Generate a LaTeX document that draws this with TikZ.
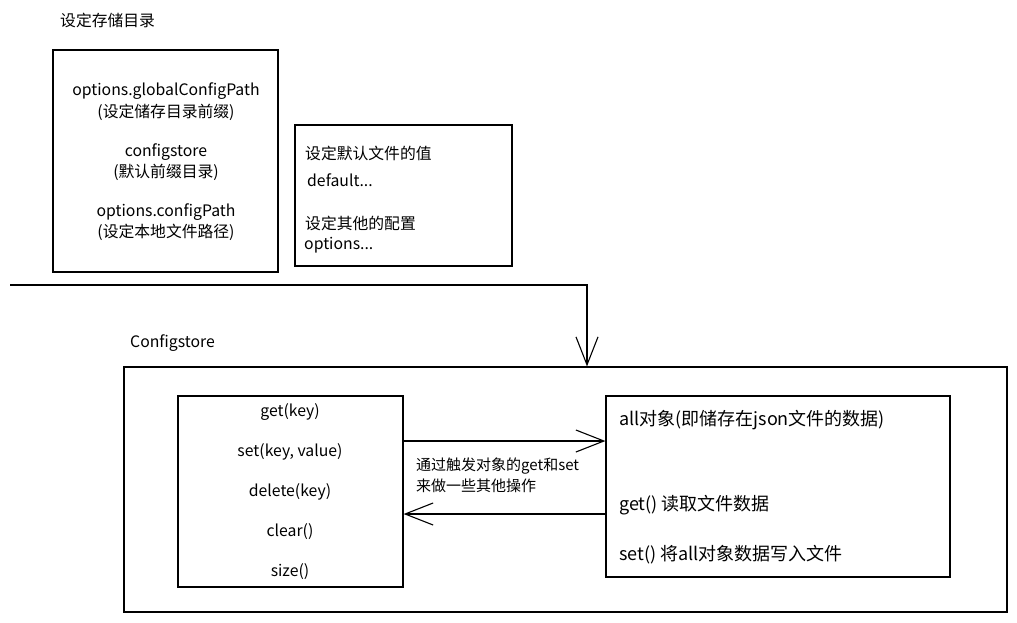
\documentclass[tikz,border=0pt]{standalone}
\usepackage{fontspec}
\setmainfont{Noto Sans CJK SC}
\usetikzlibrary{arrows.meta, positioning, calc}
\tikzset{box/.style={draw=black, line width=1.2pt, rectangle, inner sep=0pt},
    txt/.style={font=\fontsize{15.8}{21}\selectfont, inner sep=0pt},
    lefttxt/.style={txt, anchor=west, align=left},
    bigtxt/.style={lefttxt, font=\fontsize{18}{21}\selectfont},
    smalltxt/.style={lefttxt, font=\fontsize{15}{21}\selectfont},
    flow/.style={draw, line width=1.2pt, -{Straight Barb[length=28pt, width=22pt, line width=1.1pt]}}}

\begin{document}
\begin{tikzpicture}[x=1pt, y=-1pt]
  \useasboundingbox (0,0) rectangle (1017,622);

  % storage directory
  \node[lefttxt] (dirtitle) at (60,20) {设定存储目录};
  \node[box, minimum width=225pt, minimum height=222pt] (dirbox) at (165.5,161) {};
  \node[txt] (gpath) at (166,91) {options.globalConfigPath};
  \node[txt] (gpathnote) at (166,112) {(设定储存目录前缀)};
  \node[txt] (cfgname) at (166,152) {configstore};
  \node[txt] (cfgnote) at (166,172) {(默认前缀目录)};
  \node[txt] (lpath) at (166,212) {options.configPath};
  \node[txt] (lpathnote) at (166,232) {(设定本地文件路径)};

  % defaults and options
  \node[box, minimum width=217pt, minimum height=141pt] (defbox) at (403.5,195.5) {};
  \node[lefttxt] (defnote) at (305,153) {设定默认文件的值};
  \node[lefttxt] (defval) at (307,180) {default...};
  \node[lefttxt] (optnote) at (305,223) {设定其他的配置};
  \node[lefttxt] (optval) at (304,245) {options...};

  % Configstore
  \node[lefttxt] (cfglabel) at (130,343) {Configstore};
  \node[box, minimum width=883pt, minimum height=245pt] (outer) at (565.5,489.5) {};
  \node[box, minimum width=225pt, minimum height=191pt] (fns) at (290.5,491.5) {};
  \node[txt] (fget) at (290,412) {get(key)};
  \node[txt] (fset) at (290,452) {set(key, value)};
  \node[txt] (fdel) at (290,492) {delete(key)};
  \node[txt] (fclear) at (290,532) {clear()};
  \node[txt] (fsize) at (290,572) {size()};

  \node[box, minimum width=344pt, minimum height=181pt] (store) at (778,486.5) {};
  \node[bigtxt] (alldata) at (619,420) {all对象(即储存在json文件的数据)};
  \node[bigtxt] (getdesc) at (619,505) {get()\ 读取文件数据};
  \node[bigtxt] (setdesc) at (619,555) {set()\ 将all对象数据写入文件};

  \node[smalltxt] (trignote) at (416,475.5) {通过触发对象的get和set\\来做一些其他操作};

  % connectors
  \coordinate (feed) at (10,285);
  \draw[flow] (feed) -| (outer.north -| 587,0);
  \draw[flow] (fns.east |- 0,441) -- (store.west |- 0,441);
  \draw[flow] (store.west |- 0,514) -- (fns.east |- 0,514);
\end{tikzpicture}
\end{document}
